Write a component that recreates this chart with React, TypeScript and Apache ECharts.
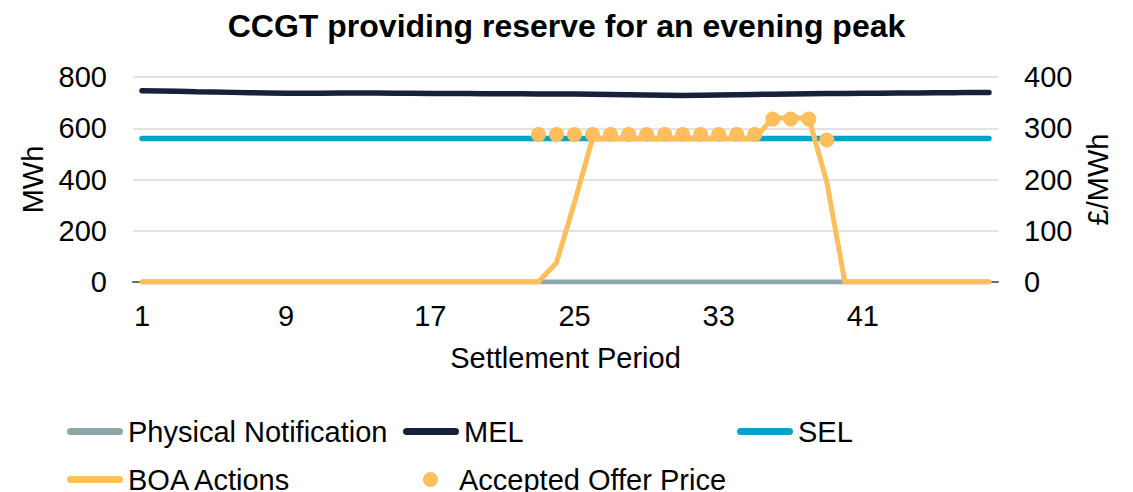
import React, { useEffect, useRef } from "react";
import * as echarts from "echarts";

const periods = [
  "1", "2", "3", "4", "5", "6", "7", "8", "9", "10", "11", "12",
  "13", "14", "15", "16", "17", "18", "19", "20", "21", "22", "23", "24",
  "25", "26", "27", "28", "29", "30", "31", "32", "33", "34", "35", "36",
  "37", "38", "39", "40", "41", "42", "43", "44", "45", "46", "47", "48",
];

const physicalNotification = [
  0, 0, 0, 0, 0, 0, 0, 0, 0, 0, 0, 0,
  0, 0, 0, 0, 0, 0, 0, 0, 0, 0, 0, 0,
  0, 0, 0, 0, 0, 0, 0, 0, 0, 0, 0, 0,
  0, 0, 0, 0, 0, 0, 0, 0, 0, 0, 0, 0,
];

const mel = [
  746, 745, 744, 742, 741, 740, 739, 738, 737, 737, 737, 738,
  738, 738, 737, 737, 736, 736, 736, 735, 735, 735, 734, 734,
  734, 733, 732, 731, 730, 729, 728, 729, 730, 731, 732, 733,
  734, 735, 736, 736, 737, 737, 738, 738, 739, 739, 740, 740,
];

const sel = [
  560, 560, 560, 560, 560, 560, 560, 560, 560, 560, 560, 560,
  560, 560, 560, 560, 560, 560, 560, 560, 560, 560, 560, 560,
  560, 560, 560, 560, 560, 560, 560, 560, 560, 560, 560, 560,
  560, 560, 560, 560, 560, 560, 560, 560, 560, 560, 560, 560,
];

const boaActions = [
  0, 0, 0, 0, 0, 0, 0, 0, 0, 0, 0, 0,
  0, 0, 0, 0, 0, 0, 0, 0, 0, 0, 0, 75,
  310, 560, 560, 560, 560, 560, 560, 560, 560, 560, 560, 640,
  640, 640, 390, 0, 0, 0, 0, 0, 0, 0, 0, 0,
];

const acceptedOfferPrice = [
  null, null, null, null, null, null, null, null, null, null, null, null,
  null, null, null, null, null, null, null, null, null, null, 288, 288,
  288, 288, 288, 288, 288, 288, 288, 288, 288, 288, 288, 318,
  318, 318, 277, null, null, null, null, null, null, null, null, null,
];

const leftTicks = [0, 200, 400, 600, 800];
const rightTicks = [0, 100, 200, 300, 400];

const FONT = "Liberation Sans, Arial, sans-serif";
const FS = 29;
const C_PN = "#8FA6A9";
const C_MEL = "#17213B";
const C_SEL = "#06A3C7";
const C_BOA = "#FFBE5C";

const capsule = "path://M3.5,0 L52.5,0 A3.5,3.5 0 0 1 52.5,7 L3.5,7 A3.5,3.5 0 0 1 3.5,0 Z";

function legendFor(name: string, left: number, top: number, icon: string, w: number, h: number, textPadLeft = 0) {
  return {
    data: [{ name, icon }],
    left,
    top,
    padding: 0,
    itemWidth: w,
    itemHeight: h,
    selectedMode: false,
    textStyle: { fontFamily: FONT, fontSize: FS, color: "#000", padding: [0, 0, 0, textPadLeft] },
  };
}

export default function App() {
  const ref = useRef<HTMLDivElement>(null);

  useEffect(() => {
    if (!ref.current) return;
    const chart = echarts.init(ref.current, null, { renderer: "svg" });
    chart.setOption({
      animation: false,
      backgroundColor: "#fff",
      title: {
        text: "CCGT providing reserve for an evening peak",
        left: "center",
        top: 5,
        textStyle: { fontFamily: FONT, fontSize: 32, fontWeight: "bold", color: "#000" },
      },
      legend: [
        legendFor("Physical Notification", 67, 417, capsule, 56, 7),
        legendFor("MEL", 403, 417, capsule, 56, 7),
        legendFor("SEL", 737, 417, capsule, 56, 7),
        legendFor("BOA Actions", 67, 465, capsule, 56, 7),
        legendFor("Accepted Offer Price", 423, 465, "circle", 15, 15, 16),
      ],
      grid: { left: 133, right: 135, top: 77, height: 205 },
      xAxis: {
        type: "category",
        data: periods,
        boundaryGap: true,
        name: "Settlement Period",
        nameLocation: "middle",
        nameGap: 61,
        nameTextStyle: { fontFamily: FONT, fontSize: FS, color: "#000" },
        axisLine: { show: true, lineStyle: { color: "#5E6E71", width: 2 } },
        axisTick: { show: false },
        axisLabel: { interval: 7, margin: 19, fontFamily: FONT, fontSize: FS, color: "#000" },
        splitLine: { show: false },
      },
      yAxis: [
        {
          type: "value",
          min: leftTicks[0],
          max: leftTicks[leftTicks.length - 1],
          interval: 200,
          name: "MWh",
          nameLocation: "middle",
          nameGap: 84,
          nameTextStyle: { fontFamily: FONT, fontSize: FS, color: "#000" },
          axisLine: { show: false },
          axisTick: { show: false },
          axisLabel: { margin: 26, fontFamily: FONT, fontSize: FS, color: "#000" },
          splitLine: { show: true, lineStyle: { color: "#D9D9D9", width: 1.5 } },
        },
        {
          type: "value",
          position: "right",
          min: rightTicks[0],
          max: rightTicks[rightTicks.length - 1],
          interval: 100,
          name: "£/MWh",
          nameLocation: "middle",
          nameGap: 82,
          nameTextStyle: { fontFamily: FONT, fontSize: FS, color: "#000" },
          axisLine: { show: false },
          axisTick: { show: false },
          axisLabel: { margin: 26, fontFamily: FONT, fontSize: FS, color: "#000" },
          splitLine: { show: false },
        },
      ],
      series: [
        {
          name: "Physical Notification",
          type: "line",
          yAxisIndex: 0,
          data: physicalNotification,
          showSymbol: false,
          itemStyle: { color: C_PN },
          lineStyle: { color: C_PN, width: 5, cap: "round" },
          z: 2,
        },
        {
          name: "MEL",
          type: "line",
          yAxisIndex: 0,
          data: mel,
          showSymbol: false,
          itemStyle: { color: C_MEL },
          lineStyle: { color: C_MEL, width: 5.5, cap: "round" },
          z: 3,
        },
        {
          name: "SEL",
          type: "line",
          yAxisIndex: 0,
          data: sel,
          showSymbol: false,
          itemStyle: { color: C_SEL },
          lineStyle: { color: C_SEL, width: 5.5, cap: "round" },
          z: 4,
        },
        {
          name: "BOA Actions",
          type: "line",
          yAxisIndex: 0,
          data: boaActions,
          showSymbol: false,
          itemStyle: { color: C_BOA },
          lineStyle: { color: C_BOA, width: 5, cap: "round", join: "round" },
          z: 5,
        },
        {
          name: "Accepted Offer Price",
          type: "scatter",
          yAxisIndex: 1,
          data: acceptedOfferPrice,
          symbol: "circle",
          symbolSize: 15,
          itemStyle: { color: C_BOA, opacity: 1 },
          z: 6,
        },
      ],
    });
    return () => chart.dispose();
  }, []);

  return (
    <div
      ref={ref}
      style={{ position: "fixed", left: 0, top: 0, width: 1133, height: 492, background: "#fff" }}
    />
  );
}
